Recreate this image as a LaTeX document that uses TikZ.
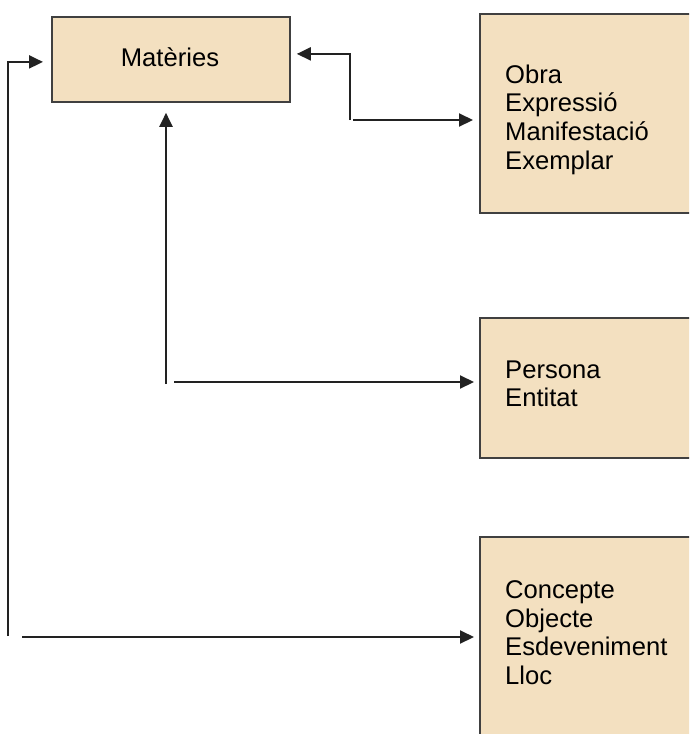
\documentclass[tikz,border=0pt]{standalone}
\usepackage{fontspec}
\setmainfont{Liberation Sans}
\usetikzlibrary{arrows.meta,calc}
\definecolor{boxfill}{HTML}{F3E0C0}
\definecolor{boxline}{HTML}{404040}
\definecolor{conn}{HTML}{222222}
\tikzset{
  entbox/.style={draw=boxline, line width=1.8pt, fill=boxfill, rectangle, inner sep=0pt, anchor=north west},
  entext/.style={inner sep=0pt, align=left, anchor=north west, font=\fontsize{25.6}{28.6}\selectfont},
  arr/.style={draw=conn, line width=2.1pt, -{Triangle[length=14pt,width=13pt]}}
}
\begin{document}
\begin{tikzpicture}[x=1pt,y=-1pt]
\useasboundingbox (0,0) rectangle (689,734);
\clip (0,0) rectangle (689,734);
% boxes
\node[entbox, minimum width=238pt, minimum height=85pt] (mat) at (51,16) {};
\node[inner sep=0pt, anchor=base, font=\fontsize{25.6}{28.6}\selectfont] (matt) at (170,66) {Matèries};
\node[entbox, minimum width=240pt, minimum height=199pt] (box1) at (479,13) {};
\node[entext] (t1) at (505,64.5) {Obra\\Expressió\\Manifestació\\Exemplar};
\node[entbox, minimum width=240pt, minimum height=140pt] (box2) at (479,317) {};
\node[entext] (t2) at (505,360.5) {Persona\\Entitat};
\node[entbox, minimum width=240pt, minimum height=240pt] (box3) at (479,536) {};
\node[entext] (t3) at (505,580.5) {Concepte\\Objecte\\Esdeveniment\\Lloc};
% connector coordinates
\coordinate (k1) at (350,120);
\coordinate (k1h) at (353,120);
\coordinate (k2) at (166,384);
\coordinate (k2h) at (174,382);
\coordinate (k3) at (8,636);
\coordinate (k3h) at (22,637);
% top connector
\draw[arr, shorten >=6pt] (k1) |- ($(mat.east)+(0,-5.5)$);
\draw[arr, shorten >=6pt] (k1h) -- (k1h -| box1.west);
% middle connector
\draw[arr, shorten >=10pt] (k2) -- (k2 |- mat.south);
\draw[arr, shorten >=5pt] (k2h) -- (k2h -| box2.west);
% left connector
\draw[arr, shorten >=8pt] (k3) |- ($(mat.west)+(0,2.5)$);
\draw[arr, shorten >=5pt] (k3h) -- (k3h -| box3.west);
\end{tikzpicture}
\end{document}
